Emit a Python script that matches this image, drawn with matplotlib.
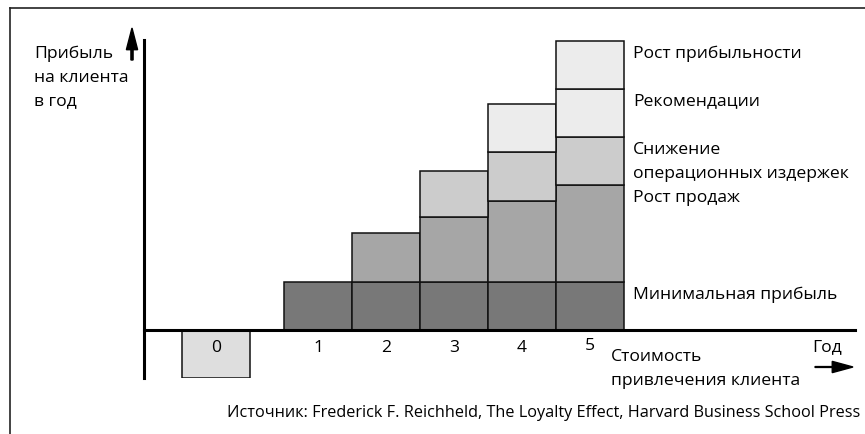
import matplotlib.pyplot as plt
import numpy as np
from matplotlib.lines import Line2D
from matplotlib.patches import FancyArrow

plt.rcParams["font.family"] = ["Open Sans", "DejaVu Sans"]

# data: profit per customer by year, in arbitrary units
years = ["1", "2", "3", "4", "5"]
base_profit = [1.0, 1.0, 1.0, 1.0, 1.0]
sales_growth = [0.0, 1.02, 1.35, 1.69, 2.03]
cost_savings = [0.0, 0.0, 0.96, 1.01, 1.0]
referrals = [0.0, 0.0, 0.0, 1.0, 1.0]
price_premium = [0.0, 0.0, 0.0, 0.0, 1.0]
acquisition_cost = -1.0

layers = [base_profit, sales_growth, cost_savings, referrals, price_premium]
layer_colors = ["#787878", "#a6a6a6", "#cccccc", "#ececec", "#ececec"]
layer_labels = [
    "Минимальная прибыль",
    "Рост продаж",
    "Снижение\nоперационных издержек",
    "Рекомендации",
    "Рост прибыльности",
]

FS = 12.6
LS = 1.68
W, H = 865, 434
fig = plt.figure(figsize=(W / 100, H / 100), dpi=100)


def fx(px):
    return px / W


def fy(py):
    return 1 - py / H


# axes spans from the y axis line to the end of the x axis
ax = fig.add_axes([fx(144), fy(378), fx(855) - fx(144), fy(40) - fy(378)])
ax.set_xlim(-1.559, 8.897)
ax.set_ylim(-1.0, 6.042)

pos = np.arange(1, len(years) + 1)
bottom = np.zeros(len(years))
for vals, col in zip(layers, layer_colors):
    vals = np.array(vals)
    mask = vals > 0
    ax.bar(pos[mask], vals[mask], width=1.0, bottom=bottom[mask],
           color=col, edgecolor="#111111", linewidth=1.1, zorder=2)
    bottom += vals

# year zero: cost of acquiring the customer
pos0 = pos[0] - 1.5
ax.bar([pos0], [acquisition_cost], width=1.0, color="#dedede",
       edgecolor="#111111", linewidth=1.1, zorder=2)

# axes lines
for s in ["top", "right"]:
    ax.spines[s].set_visible(False)
ax.spines["bottom"].set_position(("data", 0))
ax.spines["bottom"].set_linewidth(2.2)
ax.spines["left"].set_linewidth(2.2)
ax.spines["bottom"].set_zorder(3)
ax.set_xticks([])
ax.set_yticks([])

# year labels
for p, lab in zip(pos, years):
    dy = -18 if lab != "5" else -16
    ax.annotate(lab, (p, 0), xytext=(0, dy), textcoords="offset pixels",
                ha="center", va="center", fontsize=FS)
ax.annotate("0", (pos0, 0), xytext=(0, -18), textcoords="offset pixels",
            ha="center", va="center", fontsize=FS)

# layer labels to the right of the last bar
top = 0.0
for vals, lab in zip(layers, layer_labels):
    top += vals[-1]
    ax.annotate(lab, (pos[-1] + 0.5, top), xytext=(9, -5),
                textcoords="offset pixels", ha="left", va="top",
                fontsize=FS, linespacing=LS, annotation_clip=False)

# axis captions
fig.text(fx(34), fy(46), "Прибыль\nна клиента\nв год", ha="left", va="top",
         fontsize=FS, linespacing=LS * 0.95)
fig.text(fx(611), fy(349), "Стоимость\nпривлечения клиента", ha="left",
         va="top", fontsize=FS, linespacing=LS)
fig.text(fx(812), fy(347), "Год", ha="left", va="center", fontsize=FS)

fig.patches.append(FancyArrow(
    fx(815), fy(367), fx(853) - fx(815), 0, width=0.002, head_width=0.026,
    head_length=0.024, length_includes_head=True, color="black",
    transform=fig.transFigure))
fig.patches.append(FancyArrow(
    fx(132), fy(60), 0, fy(28) - fy(60), width=0.0025, head_width=0.013,
    head_length=0.05, length_includes_head=True, color="black",
    transform=fig.transFigure))

# frame
fig.lines.append(Line2D([fx(9.5), 1], [fy(8), fy(8)], color="#222222",
                        linewidth=1.2, transform=fig.transFigure))
fig.lines.append(Line2D([fx(9.5), fx(9.5)], [fy(8), 0], color="#222222",
                        linewidth=1.2, transform=fig.transFigure))

fig.text(fx(860), fy(413),
         "Источник: Frederick F. Reichheld, The Loyalty Effect, "
         "Harvard Business School Press",
         ha="right", va="center", fontsize=11.7)

fig.savefig("out.png", dpi=100)
